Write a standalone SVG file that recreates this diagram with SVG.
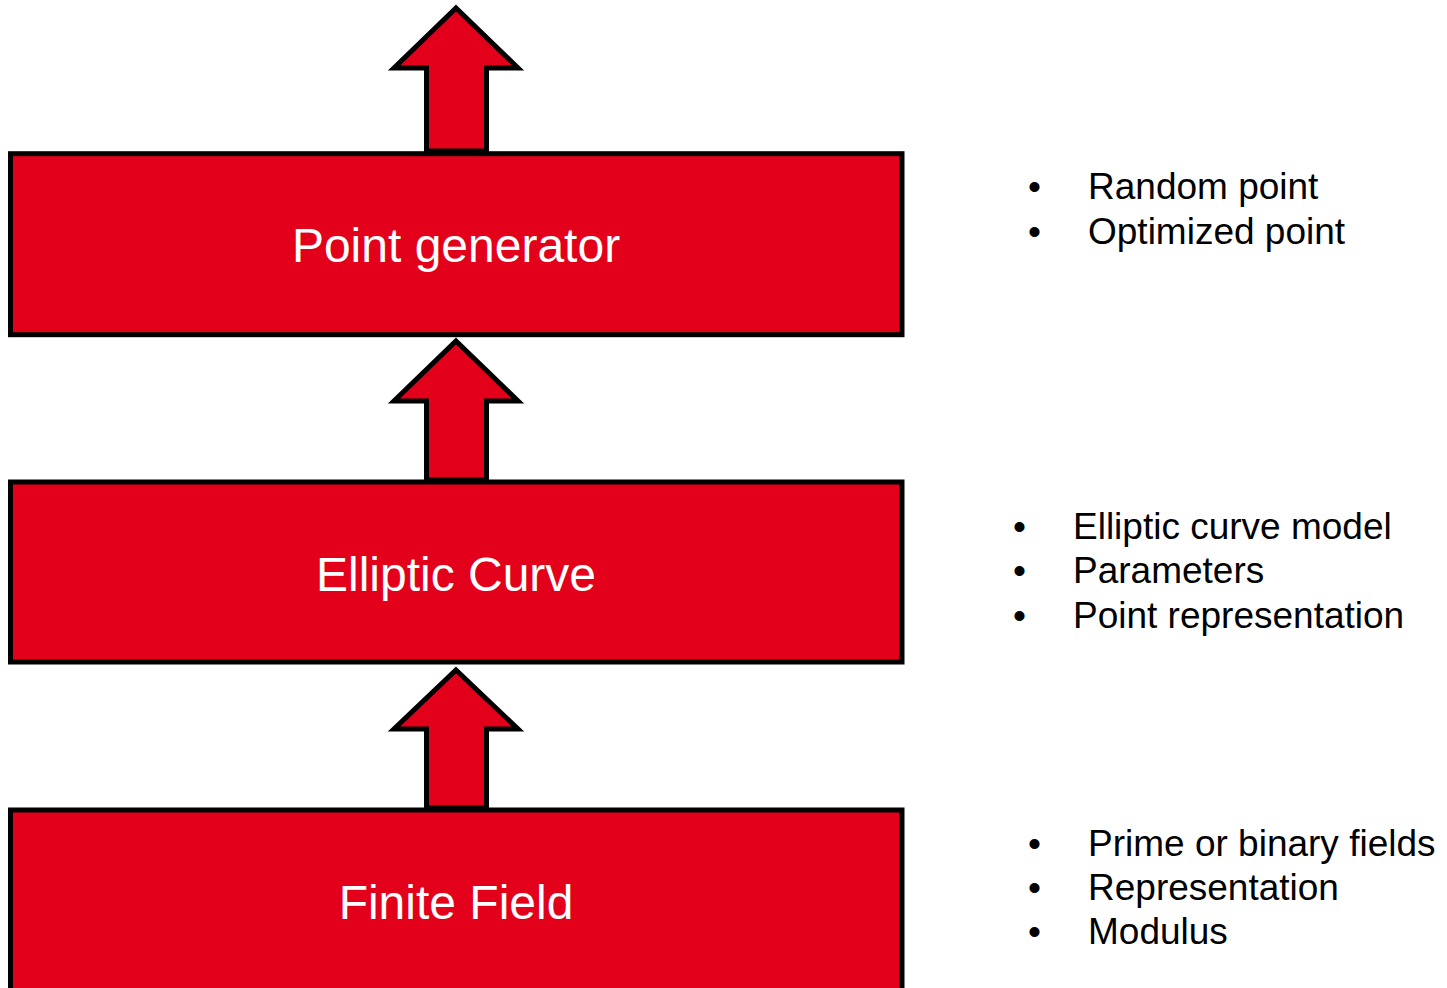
<svg xmlns="http://www.w3.org/2000/svg" width="1447" height="988" viewBox="0 0 1447 988">
  <style>
    .layer { fill: #E3001B; stroke: #000; stroke-width: 5; stroke-linejoin: miter; }
    .arrow { fill: #E3001B; stroke: #000; stroke-width: 5; stroke-linejoin: miter; stroke-miterlimit: 10; }
    .title { font-family: "Liberation Sans", Arial, sans-serif; font-size: 48px; fill: #fff; text-anchor: middle; }
    .note { font-family: "Liberation Sans", Arial, sans-serif; font-size: 37px; fill: #000; }
  </style>
  <rect width="1447" height="988" fill="#fff"/>

  <!-- upward arrows between layers -->
  <g id="connectors">
    <polygon class="arrow" points="456,8 518,68 486.5,68 486.5,151 426.5,151 426.5,68 394,68"/>
    <polygon class="arrow" points="456,341 518,401 486.5,401 486.5,480 426.5,480 426.5,401 394,401"/>
    <polygon class="arrow" points="456,670 518,729 486.5,729 486.5,808 426.5,808 426.5,729 394,729"/>
  </g>

  <g id="point-generator">
    <rect class="layer" x="10.5" y="153.7" width="891.5" height="181"/>
    <text class="title" x="456" y="261.5">Point generator</text>
  </g>

  <g id="elliptic-curve">
    <rect class="layer" x="10.5" y="482" width="891.5" height="180"/>
    <text class="title" x="456" y="590.5">Elliptic Curve</text>
  </g>

  <g id="finite-field">
    <rect class="layer" x="10.5" y="810" width="891.5" height="190"/>
    <text class="title" x="456" y="918.5">Finite Field</text>
  </g>

  <g id="point-generator-notes" class="note">
    <text x="1028" y="199">•</text><text x="1088" y="199">Random point</text>
    <text x="1028" y="244">•</text><text x="1088" y="244">Optimized point</text>
  </g>

  <g id="elliptic-curve-notes" class="note">
    <text x="1013" y="539">•</text><text x="1073" y="539">Elliptic curve model</text>
    <text x="1013" y="583">•</text><text x="1073" y="583">Parameters</text>
    <text x="1013" y="628">•</text><text x="1073" y="628">Point representation</text>
  </g>

  <g id="finite-field-notes" class="note">
    <text x="1028" y="856">•</text><text x="1088" y="856">Prime or binary fields</text>
    <text x="1028" y="900">•</text><text x="1088" y="900">Representation</text>
    <text x="1028" y="944">•</text><text x="1088" y="944">Modulus</text>
  </g>
</svg>
